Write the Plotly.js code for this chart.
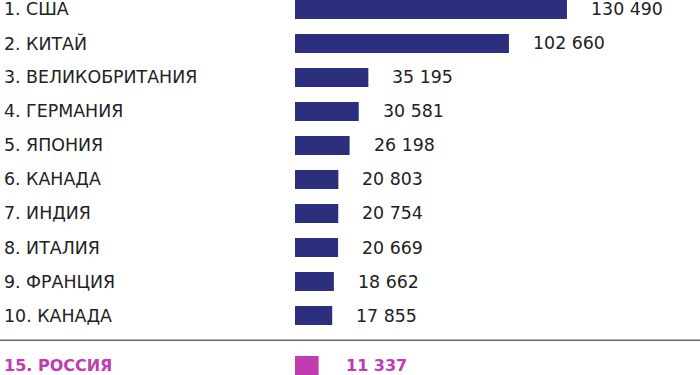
<!DOCTYPE html>
<html><head><meta charset="utf-8">
<script src="https://cdn.plot.ly/plotly-3.0.1.min.js"></script>
<style>html,body{margin:0;padding:0;background:#fff;}#chart{width:700px;height:375px;}</style>
</head><body><div id="chart"></div>
<script>
const countries = ["1. США","2. КИТАЙ","3. ВЕЛИКОБРИТАНИЯ","4. ГЕРМАНИЯ","5. ЯПОНИЯ","6. КАНАДА","7. ИНДИЯ","8. ИТАЛИЯ","9. ФРАНЦИЯ","10. КАНАДА"];
const values = [130490,102660,35195,30581,26198,20803,20754,20669,18662,17855];
const russiaLabel = "15. РОССИЯ";
const russiaValue = 11337;

const rows = countries.map((c,i)=>i);
const russiaRow = 10.47;
const fmt = v => String(v).replace(/\B(?=(\d{3})+(?!\d))/g, " ");
const FONT = "'DejaVu Sans', sans-serif";
const FS = 17.4, FSB = 16;
const NAVY = "#2b2f7e", MAG = "#c03cb0", TXT = "#222222";

const traces = [
  {type:"bar", orientation:"h", x:values, y:rows, width:0.56, marker:{color:NAVY}, hoverinfo:"none"},
  {type:"bar", orientation:"h", x:[russiaValue], y:[russiaRow], width:0.56, marker:{color:MAG}, hoverinfo:"none"}
];

const ann = [];
countries.forEach((c,i)=>{
  ann.push({xref:"paper", yref:"y", x:0.003, y:rows[i], text:c, showarrow:false, xanchor:"left", yanchor:"middle", font:{family:FONT,size:FS,color:TXT}});
  ann.push({xref:"x", yref:"y", x:values[i], y:rows[i], text:fmt(values[i]), showarrow:false, xanchor:"left", yanchor:"middle", xshift:22, font:{family:FONT,size:FS,color:TXT}});
});
ann.push({xref:"paper", yref:"y", x:0.003, y:russiaRow, text:"<b>"+russiaLabel+"</b>", showarrow:false, xanchor:"left", yanchor:"middle", font:{family:FONT,size:FSB,color:MAG}});
ann.push({xref:"x", yref:"y", x:russiaValue, y:russiaRow, text:"<b>"+fmt(russiaValue)+"</b>", showarrow:false, xanchor:"left", yanchor:"middle", xshift:25, font:{family:FONT,size:FSB,color:MAG}});

const layout = {
  width:700, height:375, margin:{l:0,r:0,t:0,b:0},
  paper_bgcolor:"#fff", plot_bgcolor:"#fff", showlegend:false,
  xaxis:{range:[-141555,194338], visible:false, fixedrange:true},
  yaxis:{range:[10.75,-0.279], visible:false, fixedrange:true},
  annotations:ann,
  shapes:[{type:"line", xref:"paper", yref:"y", x0:0, x1:1, y0:9.73, y1:9.73, line:{color:"#666666", width:1.5}}]
};
Plotly.newPlot("chart", traces, layout, {staticPlot:true});
</script></body></html>
